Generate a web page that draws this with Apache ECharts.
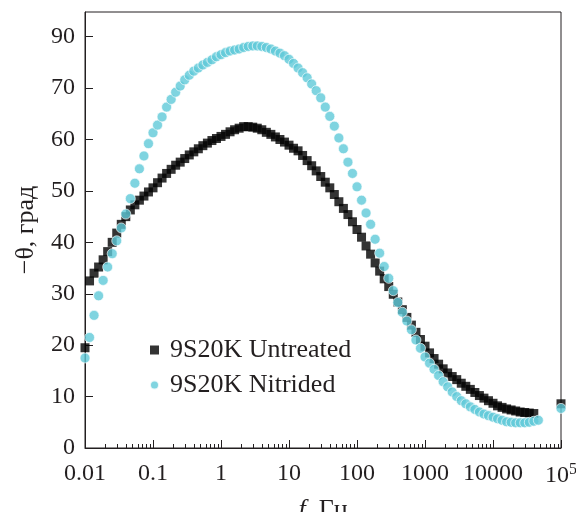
<!DOCTYPE html>
<html>
<head>
<meta charset="utf-8">
<script src="https://cdn.jsdelivr.net/npm/echarts@6/dist/echarts.min.js"></script>
<style>
  html, body { margin: 0; padding: 0; background: #fff; }
  #chart { width: 576px; height: 512px; }
</style>
</head>
<body>
<div id="chart"></div>
<script>
// measurement frequencies, Hz (15 per decade)
const freqHz = [
  0.01, 0.01166, 0.01359, 0.01585, 0.01848, 0.02154, 0.02512, 0.02929, 0.03415, 0.03981, 0.04642, 0.05412, 0.0631, 0.07356, 0.08577,
  0.1, 0.1166, 0.1359, 0.1585, 0.1848, 0.2154, 0.2512, 0.2929, 0.3415, 0.3981, 0.4642, 0.5412, 0.631, 0.7356, 0.8577,
  1, 1.166, 1.359, 1.585, 1.848, 2.154, 2.512, 2.929, 3.415, 3.981, 4.642, 5.412, 6.31, 7.356, 8.577,
  10, 11.66, 13.59, 15.85, 18.48, 21.54, 25.12, 29.29, 34.15, 39.81, 46.42, 54.12, 63.1, 73.56, 85.77,
  100, 116.6, 135.9, 158.5, 184.8, 215.4, 251.2, 292.9, 341.5, 398.1, 464.2, 541.2, 631, 735.6, 857.7,
  1000, 1166, 1359, 1585, 1848, 2154, 2512, 2929, 3415, 3981, 4642, 5412, 6310, 7356, 8577,
  10000, 11660, 13590, 15850, 18480, 21540, 25120, 29290, 34150, 39810, 46420,
  100000
];
// -theta for 9S20K untreated (null = no point)
const untreated = [
  19.5, 32.5, 34.0, 35.2, 36.6, 38.2, 40.0, 41.8, 43.5, 45.0, 46.3, 47.3, 48.2, 49.0, 49.8,
  50.6, 51.6, 52.5, 53.4, 54.2, 55.0, 55.6, 56.3, 57.0, 57.6, 58.2, 58.8, 59.3, 59.8, 60.2,
  60.6, 61.0, 61.5, 61.9, 62.2, 62.5, 62.5, 62.4, 62.2, 61.9, 61.4, 61.0, 60.5, 60.0, 59.5,
  58.9, 58.3, 57.8, 56.9, 55.9, 54.9, 53.9, 52.8, 51.7, 50.6, 49.3, 47.9, 46.6, 45.4, 44.0,
  42.5, 41.0, 39.3, 37.7, 36.0, 34.4, 32.9, 31.4, 29.9, 28.4, 26.9, 25.4, 23.9, 22.5, 21.1,
  19.8, 18.5, 17.4, 16.3, 15.4, 14.6, 13.9, 13.3, 12.6, 12.0, 11.4, 10.8, 10.2, 9.7, 9.2,
  8.7, 8.2, 7.9, 7.6, 7.4, 7.2, 7.0, 6.9, 6.8, 6.7, null,
  8.6
];
// -theta for 9S20K nitrided
const nitrided = [
  17.5, 21.5, 25.8, 29.6, 32.6, 35.2, 37.8, 40.3, 42.8, 45.5, 48.5, 51.5, 54.3, 56.8, 59.2,
  61.3, 62.8, 64.4, 66.3, 67.8, 69.2, 70.4, 71.6, 72.5, 73.3, 73.9, 74.5, 75.0, 75.5, 76.1,
  76.5, 76.9, 77.2, 77.4, 77.6, 77.9, 78.1, 78.2, 78.2, 78.1, 77.9, 77.6, 77.2, 76.8, 76.3,
  75.6, 74.8, 73.9, 73.0, 72.0, 70.8, 69.5, 68.1, 66.3, 64.5, 62.6, 60.3, 58.2, 55.6, 53.4,
  50.8, 48.2, 45.7, 43.5, 40.6, 37.9, 35.3, 33.0, 30.6, 28.3, 26.4, 24.7, 23.0, 21.0, 19.4,
  17.7, 16.5, 15.3, 14.1, 12.9, 11.9, 10.9, 10.0, 9.2, 8.6, 8.0, 7.5, 7.0, 6.6, 6.3,
  6.0, 5.7, 5.4, 5.1, 5.0, 4.9, 4.9, 4.9, 5.0, 5.2, 5.4,
  7.7
];
const seriesNames = ['9S20K Untreated', '9S20K Nitrided'];

const xTickValues = [0.01, 0.1, 1, 10, 100, 1000, 10000, 100000];
const xTickLabels = ['0.01', '0.1', '1', '10', '100', '1000', '10000', '10{sup|5}'];
const yTickValues = [0, 10, 20, 30, 40, 50, 60, 70, 80];
const yTickLabels = ['0', '10', '20', '30', '40', '50', '60', '70', '90'];

const FONT = 'Liberation Serif';
const INK = '#231f20';
const CYAN = '#5fc9d8';

function toPairs(vals) {
  const out = [];
  freqHz.forEach((f, i) => {
    if (vals[i] != null) out.push([f, vals[i]]);
  });
  return out;
}

// tick marks are drawn on hidden value axes that run in log10 space
const majorLog = xTickValues.map(v => Math.round(Math.log10(v)));
const minorLog = [];
for (let e = -2; e < 5; e++) {
  for (let d = 2; d < 10; d++) minorLog.push(e + Math.log10(d));
}

function tickAxis(values, len) {
  return {
    type: 'value', min: -2, max: 5, position: 'bottom',
    axisLine: { show: false, onZero: false },
    axisTick: { show: true, inside: true, length: len, customValues: values, lineStyle: { color: INK } },
    axisLabel: { show: false },
    splitLine: { show: false }
  };
}

const chart = echarts.init(document.getElementById('chart'));

const option = {
  animation: false,
  grid: {
    left: 85, right: 15, top: 12, bottom: 64,
    outerBoundsMode: 'none',
    containLabel: false,
    show: true, borderColor: INK, borderWidth: 1
  },
  legend: {
    orient: 'vertical',
    left: 144, top: 330,
    itemWidth: 9, itemHeight: 9, itemGap: 5,
    data: [
      { name: seriesNames[0], icon: 'rect' },
      { name: seriesNames[1], icon: 'circle' }
    ],
    textStyle: { fontFamily: FONT, fontSize: 26, color: INK, lineHeight: 30, padding: [0, 0, 0, 6] }
  },
  xAxis: [
    {
      type: 'log', logBase: 10, min: 0.01, max: 100000,
      name: '{i|f}, Гц', nameLocation: 'middle', nameGap: 49,
      nameTextStyle: {
        fontFamily: FONT, fontSize: 26, color: INK,
        rich: { i: { fontFamily: FONT, fontSize: 26, fontStyle: 'italic', color: INK } }
      },
      axisLine: { onZero: false, lineStyle: { color: INK, width: 1 } },
      axisTick: { show: false },
      axisLabel: {
        customValues: xTickValues,
        margin: 14,
        fontFamily: FONT, fontSize: 24, color: INK,
        formatter: v => xTickLabels[xTickValues.findIndex(t => Math.abs(Math.log10(t) - Math.log10(v)) < 1e-6)],
        rich: { sup: { fontFamily: FONT, fontSize: 16, color: INK, verticalAlign: 'top', padding: [0, 0, 12, 0] } }
      },
      splitLine: { show: false }
    },
    tickAxis(minorLog, 4),
    tickAxis(majorLog, 8)
  ],
  yAxis: {
    type: 'value', min: 0, max: 84.8,
    name: '\u2212\u03b8, град', nameLocation: 'middle', nameGap: 46, nameRotate: 90,
    nameTextStyle: { fontFamily: FONT, fontSize: 26, color: INK },
    axisLine: { show: true, onZero: false, lineStyle: { color: INK, width: 1 } },
    axisTick: { show: true, inside: true, length: 8, customValues: yTickValues, lineStyle: { color: INK } },
    axisLabel: {
      customValues: yTickValues,
      margin: 10,
      fontFamily: FONT, fontSize: 24, color: INK,
      formatter: v => yTickLabels[yTickValues.indexOf(Math.round(v))]
    },
    splitLine: { show: false }
  },
  series: [
    {
      name: seriesNames[0],
      type: 'scatter',
      symbol: 'rect',
      symbolSize: 9,
      itemStyle: { color: '#000' },
      data: toPairs(untreated)
    },
    {
      name: seriesNames[1],
      type: 'scatter',
      symbol: 'circle',
      symbolSize: 10,
      itemStyle: { color: CYAN, borderColor: '#fff', borderWidth: 0.8 },
      data: toPairs(nitrided)
    }
  ]
};

chart.setOption(option);
</script>
</body>
</html>
